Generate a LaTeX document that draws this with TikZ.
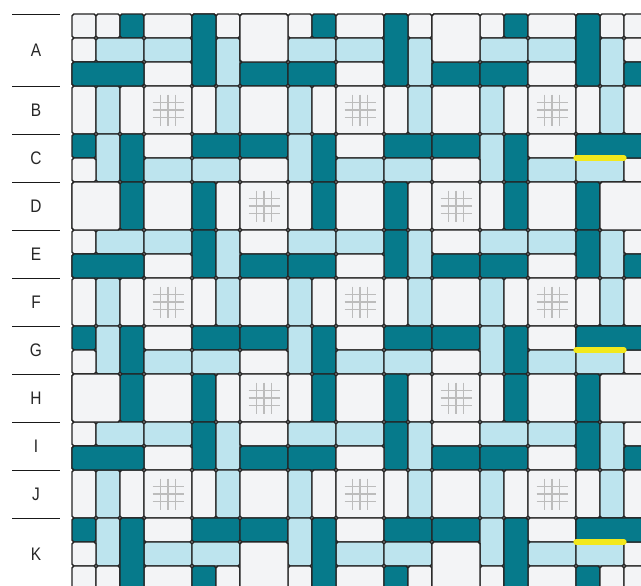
\documentclass[tikz,border=0pt]{standalone}
\usepackage{fontspec}
\newfontfamily\labelfont[FakeStretch=0.85]{Liberation Sans}
\usetikzlibrary{positioning}

\definecolor{cellgrey}{HTML}{F3F4F6}
\definecolor{celllight}{HTML}{BDE4EE}
\definecolor{celldark}{HTML}{067A8B}
\definecolor{celledge}{HTML}{232323}
\definecolor{markgrey}{HTML}{BCBCBC}
\definecolor{hiyellow}{HTML}{F2E81C}

\tikzset{
  cell/.style={draw=celledge, line width=1.1pt, rounded corners=1.6pt},
  rowline/.style={draw=black!90, line width=0.8pt},
  rowlabel/.style={font=\labelfont\fontsize{15.5}{18}\selectfont, text=black!85},
  gridmark/.style={draw=markgrey, line width=0.9pt},
  highlight/.style={draw=hiyellow, line width=4.5pt, line cap=round},
}

% one cell: column, row, width, height, colour (grid units)
\newcommand{\gridcell}[5]{%
  \draw[cell, fill=#5] ({72+24*#1},{14+24*#2}) rectangle ({72+24*(#1+#3)},{14+24*(#2+#4)});}

\begin{document}
\begin{tikzpicture}[x=0.03cm, y=-0.03cm]
    \clip (0,0) rectangle (641,585);
    \fill[white] (0,0) rectangle (641,585);

    % row labels
    \foreach \name/\ya/\yb in {A/0/3, B/3/5, C/5/7, D/7/9, E/9/11, F/11/13,
                               G/13/15, H/15/17, I/17/19, J/19/21, K/21/24} {
        \draw[rowline] (12,{14+24*\ya}) -- (60,{14+24*\ya});
        \node[rowlabel] (row\name) at (36,{14+12*(\ya+\yb)}) {\name};
    }

    % repeating 8x8 weave tile, cut at the grid border
    \foreach \k in {-1,0,1,2} {
      \foreach \m in {-1,0,1,2} {
        \foreach \t/\u/\w/\h/\col in {
            0/0/2/1/cellgrey, 2/0/2/1/celllight, 4/0/2/1/celllight, 6/0/1/2/celldark, 7/0/1/2/celllight,
            0/1/2/1/celldark, 2/1/2/1/celldark, 4/1/2/1/cellgrey,
            0/2/2/2/cellgrey, 2/2/1/2/celllight, 3/2/1/2/cellgrey, 4/2/2/2/cellgrey, 6/2/1/2/cellgrey, 7/2/1/2/celllight,
            0/4/2/1/celldark, 2/4/1/2/celllight, 3/4/1/2/celldark, 4/4/2/1/cellgrey, 6/4/2/1/celldark,
            0/5/2/1/cellgrey, 4/5/2/1/celllight, 6/5/2/1/celllight,
            0/6/2/2/cellgrey, 2/6/1/2/cellgrey, 3/6/1/2/celldark, 4/6/2/2/cellgrey, 6/6/1/2/celldark, 7/6/1/2/cellgrey} {
          \pgfmathtruncatemacro\ca{max(7+\t+8*\k,0)}
          \pgfmathtruncatemacro\cb{min(7+\t+8*\k+\w,24)}
          \pgfmathtruncatemacro\ra{max(1+\u+8*\m,0)}
          \pgfmathtruncatemacro\rb{min(1+\u+8*\m+\h,24)}
          \pgfmathtruncatemacro\ok{(\cb>\ca)&&(\rb>\ra)}
          \ifnum\ok=1
            \draw[cell, fill=\col] ({72+24*\ca},{14+24*\ra}) rectangle ({72+24*\cb},{14+24*\rb});
          \fi
        }
      }
    }

    % cut pieces joined along the border
    \foreach \c/\r/\w/\h/\col in {
        0/2/3/1/celldark, 0/10/3/1/celldark, 0/18/3/1/celldark, 0/7/2/2/cellgrey, 0/15/2/2/cellgrey,
        7/0/2/2/cellgrey, 15/0/2/2/cellgrey, 5/0/1/3/celldark, 13/0/1/3/celldark, 21/0/1/3/celldark,
        21/5/3/1/celldark, 21/13/3/1/celldark, 21/21/3/1/celldark, 22/7/2/2/cellgrey, 22/15/2/2/cellgrey,
        7/22/2/2/cellgrey, 15/22/2/2/cellgrey, 2/21/1/3/celldark, 10/21/1/3/celldark, 18/21/1/3/celldark}
        \gridcell{\c}{\r}{\w}{\h}{\col};

    % grid marks in the open squares
    \foreach \c/\r in {3/3, 11/3, 19/3, 3/11, 11/11, 19/11, 3/19, 11/19, 19/19,
                       7/7, 15/7, 7/15, 15/15} {
        \coordinate (mark) at ({72+24*(\c+1)},{14+24*(\r+1)});
        \foreach \d in {-7.7,0,7.7} {
            \draw[gridmark] ([shift={(\d,-15.5)}]mark) -- ([shift={(\d,15.5)}]mark);
            \draw[gridmark] ([shift={(-15.5,\d)}]mark) -- ([shift={(15.5,\d)}]mark);
        }
    }

    % highlighted edges
    \foreach \r in {6,14,22} {
        \coordinate (hlA\r) at (576,{14+24*\r});
        \coordinate (hlB\r) at (624,{14+24*\r});
        \draw[highlight] (hlA\r) -- (hlB\r);
    }
\end{tikzpicture}
\end{document}
